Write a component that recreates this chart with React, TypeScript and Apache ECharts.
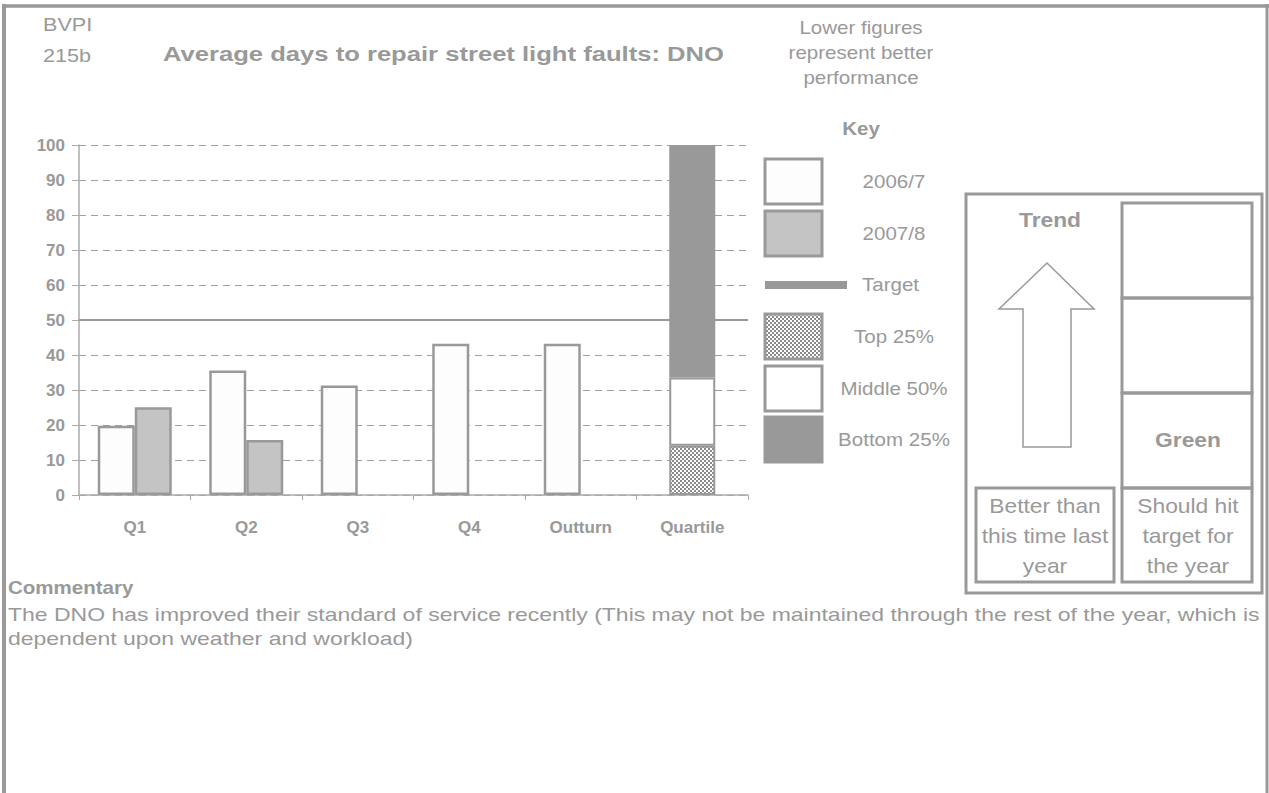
import React, { useEffect, useRef } from "react";
import * as echarts from "echarts";

const categories = ["Q1", "Q2", "Q3", "Q4", "Outturn", "Quartile"];
const values2006 = [19.8, 35.6, 31.3, 43.2, 43.2, null];
const values2007 = [25.1, 15.7, null, null, null, null];
const targetValue = 50;
const quartileTop = [null, null, null, null, null, 14.1];
const quartileMiddle = [null, null, null, null, null, 19.5];
const quartileBottom = [null, null, null, null, null, 66.4];
const yMin = 0;
const yMax = 100;
const yInterval = 10;

const keyLabels = ["2006/7", "2007/8", "Target", "Top 25%", "Middle 50%", "Bottom 25%"];
const titleLines = ["BVPI", "215b"];
const titleText = "Average days to repair street light faults: DNO";
const noteLines = ["Lower figures", "represent better", "performance"];
const trendText = "Trend";
const trendLines = ["Better than", "this time last", "year"];
const statusText = "Green";
const statusLines = ["Should hit", "target for", "the year"];
const commentaryTitle = "Commentary";
const commentaryLines = [
  "The DNO has improved their standard of service recently (This may not be maintained through the rest of the year, which is",
  "dependent upon weather and workload)",
];

const GRAY = "#999999";
const FONT = '"Liberation Sans", Arial, sans-serif';

const toData = (a: (number | null)[]) => a.map((v) => (v === null ? "-" : v));

function makePattern() {
  const c = document.createElement("canvas");
  c.width = 4;
  c.height = 4;
  const ctx = c.getContext("2d")!;
  ctx.fillStyle = "#ffffff";
  ctx.fillRect(0, 0, 4, 4);
  ctx.fillStyle = "#8a8a8a";
  ctx.fillRect(0, 0, 2, 2);
  ctx.fillRect(2, 2, 2, 2);
  return { image: c.toDataURL(), repeat: "repeat" };
}

function txt(
  text: string,
  x: number,
  y: number,
  size: number,
  bold: boolean,
  align: string,
  sx = 1.14
) {
  return {
    type: "text",
    x,
    y,
    scaleX: sx,
    silent: true,
    style: {
      text,
      x: 0,
      y: 0,
      fill: GRAY,
      fontSize: size,
      fontWeight: bold ? "bold" : "normal",
      fontFamily: FONT,
      align,
      verticalAlign: "middle",
    },
  };
}

function rect(x: number, y: number, w: number, h: number, fill: any, stroke: string | null, lw = 3) {
  return {
    type: "rect",
    silent: true,
    shape: { x, y, width: w, height: h },
    style: { fill, stroke: stroke ?? "none", lineWidth: lw },
  };
}

export default function App() {
  const ref = useRef<HTMLDivElement>(null);

  useEffect(() => {
    if (!ref.current) return;
    const chart = echarts.init(ref.current, null, { renderer: "svg" });
    const pattern = makePattern();

    const keyY = [159, 211, 281, 314, 366, 417];
    const keyFills: any[] = ["#fdfdfd", "#c4c4c4", GRAY, pattern, "#ffffff", GRAY];
    const keyGraphics: any[] = [];
    keyLabels.forEach((lab, i) => {
      if (i === 2) {
        keyGraphics.push(rect(765, 281, 82, 8, GRAY, null));
        keyGraphics.push(txt(lab, 862, 285, 18, false, "left"));
      } else {
        keyGraphics.push(rect(765, keyY[i], 57, 45, keyFills[i], GRAY, 3));
        keyGraphics.push(txt(lab, 894, keyY[i] + 23, 18, false, "center"));
      }
    });

    const lineYs = [506, 536, 566];

    const graphic: any[] = [
      // outer frame
      { type: "line", silent: true, shape: { x1: 4, y1: 4, x2: 4, y2: 800 }, style: { stroke: GRAY, lineWidth: 4 } },
      { type: "line", silent: true, shape: { x1: 2, y1: 6, x2: 1269, y2: 6 }, style: { stroke: GRAY, lineWidth: 3.5 } },
      { type: "line", silent: true, shape: { x1: 1267, y1: 4, x2: 1267, y2: 800 }, style: { stroke: GRAY, lineWidth: 3 } },
      // titles
      txt(titleLines[0], 43, 25, 18, false, "left", 1.2),
      txt(titleLines[1], 43, 56, 18, false, "left", 1.2),
      txt(titleText, 163, 54, 20, true, "left", 1.28),
      ...noteLines.map((l, i) => txt(l, 861, 28 + i * 25, 18, false, "center")),
      txt("Key", 861, 129, 18, true, "center"),
      ...keyGraphics,
      // right panel
      rect(966, 194, 296, 399, "none", GRAY, 3),
      rect(1122, 203, 130, 95, "none", GRAY, 3),
      rect(1122, 298, 130, 95, "none", GRAY, 3),
      rect(1122, 393, 130, 95, "none", GRAY, 3),
      rect(1122, 488, 130, 94, "none", GRAY, 3),
      rect(976, 488, 138, 94, "none", GRAY, 3),
      {
        type: "polygon",
        silent: true,
        shape: {
          points: [
            [1047, 263],
            [1094, 309],
            [1071, 309],
            [1071, 447],
            [1023, 447],
            [1023, 309],
            [999, 309],
          ],
        },
        style: { fill: "#ffffff", stroke: GRAY, lineWidth: 1.5 },
      },
      txt(trendText, 1050, 220, 20, true, "center"),
      txt(statusText, 1188, 440, 20, true, "center"),
      ...trendLines.map((l, i) => txt(l, 1045, lineYs[i], 20, false, "center")),
      ...statusLines.map((l, i) => txt(l, 1188, lineYs[i], 20, false, "center")),
      // commentary
      txt(commentaryTitle, 8, 588, 18, true, "left"),
      ...commentaryLines.map((l, i) => txt(l, 8, 614 + i * 24, 19, false, "left", 1.21)),
    ];

    const barBase = {
      type: "bar",
      barWidth: 37,
      barGap: "0%",
      xAxisIndex: 0,
      yAxisIndex: 0,
    };

    chart.setOption({
      animation: false,
      grid: { left: 79, right: 521, top: 145, bottom: 298, containLabel: false },
      xAxis: [
        {
          type: "category",
          data: categories,
          axisLine: { show: true, lineStyle: { color: "#aaaaaa", width: 1.5 } },
          axisTick: { show: true, alignWithLabel: false, length: 5, lineStyle: { color: "#aaaaaa" } },
          axisLabel: { color: GRAY, fontWeight: "bold", fontSize: 17, fontFamily: FONT, margin: 24 },
          splitLine: { show: false },
        },
        { type: "category", data: categories, show: false },
      ],
      yAxis: {
        type: "value",
        min: yMin,
        max: yMax,
        interval: yInterval,
        axisLine: { show: true, lineStyle: { color: "#aaaaaa", width: 1.5 } },
        axisTick: { show: true, length: 7, lineStyle: { color: "#aaaaaa" } },
        axisLabel: { color: GRAY, fontWeight: "bold", fontSize: 17, fontFamily: FONT, margin: 14 },
        splitLine: { show: true, lineStyle: { color: "#a0a0a0", type: [7, 5], width: 1 } },
      },
      series: [
        {
          ...barBase,
          name: "2006/7",
          data: toData(values2006),
          z: 2,
          itemStyle: { color: "#fdfdfd", borderColor: GRAY, borderWidth: 2.5 },
          markLine: {
            silent: true,
            symbol: "none",
            label: { show: false },
            lineStyle: { color: GRAY, width: 2, type: "solid" },
            data: [{ yAxis: targetValue }],
          },
        },
        {
          ...barBase,
          name: "2007/8",
          data: toData(values2007),
          z: 2,
          itemStyle: { color: "#c4c4c4", borderColor: GRAY, borderWidth: 2.5 },
        },
        {
          type: "bar",
          name: "Top 25%",
          xAxisIndex: 1,
          stack: "q",
          barWidth: 46,
          z: 5,
          data: toData(quartileTop),
          itemStyle: { color: pattern, borderColor: GRAY, borderWidth: 2 },
        },
        {
          type: "bar",
          name: "Middle 50%",
          xAxisIndex: 1,
          stack: "q",
          barWidth: 46,
          z: 5,
          data: toData(quartileMiddle),
          itemStyle: { color: "#ffffff", borderColor: GRAY, borderWidth: 2 },
        },
        {
          type: "bar",
          name: "Bottom 25%",
          xAxisIndex: 1,
          stack: "q",
          barWidth: 46,
          z: 5,
          data: toData(quartileBottom),
          itemStyle: { color: GRAY, borderColor: GRAY, borderWidth: 0 },
        },
      ],
      graphic,
    });

    return () => chart.dispose();
  }, []);

  return (
    <div
      ref={ref}
      style={{ position: "fixed", left: 0, top: 0, width: 1269, height: 793, background: "#ffffff" }}
    />
  );
}
